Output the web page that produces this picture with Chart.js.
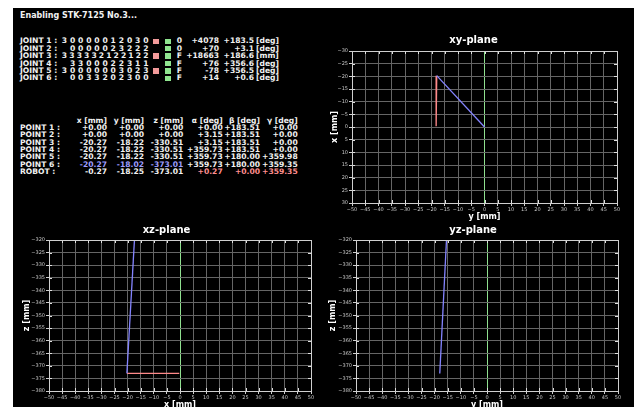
<!DOCTYPE html>
<html>
<head>
<meta charset="utf-8">
<script src="https://cdn.jsdelivr.net/npm/chart.js@4.4.1/dist/chart.umd.min.js"></script>
<style>
html,body{margin:0;padding:0;background:#fff;width:634px;height:407px;overflow:hidden;position:relative;}
#panel{position:absolute;left:13px;top:8px;width:621px;height:399px;background:#000;}
.t{position:absolute;white-space:pre;color:#f2f2f2;font-family:"DejaVu Sans",sans-serif;font-weight:700;font-size:7.6px;line-height:10px;}
.r{transform:translateX(-100%);}
.c{transform:translateX(-50%);}
.sq{position:absolute;width:6px;height:5.5px;}
canvas{position:absolute;}
</style>
</head>
<body>
<div id="panel"></div>
<div id="txt"></div>
<canvas id="xy" width="314" height="192" style="left:320px;top:30px;width:314px;height:192px;"></canvas>
<canvas id="xz" width="303" height="190" style="left:13px;top:222px;width:303px;height:190px;"></canvas>
<canvas id="yz" width="314" height="190" style="left:320px;top:222px;width:314px;height:190px;"></canvas>
<script>
// ---------- data ----------
const heading = "Enabling STK-7125 No.3...";
const jointNames = ["JOINT 1 :", "JOINT 2 :", "JOINT 3 :", "JOINT 4 :", "JOINT 5 :", "JOINT 6 :"];
const jointCodes = ["30000012030", "0000023222", "333332122122", "3300022311", "30000003023", "0033202300"];
const jointRedFlag = [true, false, true, false, true, false];
const jointStatus = ["0", "0", "F", "F", "F", "F"];
const jointCounts = [4078, 70, 18663, 76, -78, 14];
const jointValues = [183.5, 3.1, 186.6, 356.6, 356.5, 0.6];
const jointUnits = ["[deg]", "[deg]", "[mm]", "[deg]", "[deg]", "[deg]"];

const colHeaders = ["x [mm]", "y [mm]", "z [mm]", "\u03b1 [deg]", "\u03b2 [deg]", "\u03b3 [deg]"];
const pointNames = ["POINT 1 :", "POINT 2 :", "POINT 3 :", "POINT 4 :", "POINT 5 :", "POINT 6 :"];
const pointX = [0.00, 0.00, -20.27, -20.27, -20.27, -20.27];
const pointY = [0.00, 0.00, -18.22, -18.22, -18.22, -18.02];
const pointZ = [0.00, 0.00, -330.51, -330.51, -330.51, -373.01];
const pointA = [0.00, 3.15, 3.15, 359.73, 359.73, 359.73];
const pointB = [183.51, 183.51, 183.51, 183.51, 180.00, 180.00];
const pointG = [0.00, 0.00, 0.00, 0.00, 359.98, 359.35];
const robotName = "ROBOT :";
const robot = [-0.27, -18.25, -373.01, 0.27, 0.00, 359.35];

const xyRange = {h: [-50, 50], v: [-30, 30]};
const xzRange = {h: [-50, 50], v: [-380, -320]};
const yzRange = {h: [-50, 50], v: [-380, -320]};
const tickStep = 5;

// ---------- text panel ----------
const BLUE_T = "#9d9dff", RED_T = "#ff8f8f";
const txt = document.getElementById("txt");
function put(s, x, y, align, opt) {
  const d = document.createElement("div");
  d.className = "t" + (align === "r" ? " r" : align === "c" ? " c" : "");
  d.textContent = s;
  d.style.left = x + "px";
  d.style.top = (y - 5) + "px";
  if (opt && opt.color) d.style.color = opt.color;
  if (opt && opt.size) { d.style.fontSize = opt.size + "px"; d.style.lineHeight = (opt.size + 2) + "px"; d.style.top = (y - (opt.size + 2) / 2) + "px"; }
  txt.appendChild(d);
}
function sgn(v, n) { const s = v.toFixed(n); return v < 0 ? s : "+" + s; }
function sq(x, y, col) {
  const d = document.createElement("div");
  d.className = "sq"; d.style.left = x + "px"; d.style.top = (y - 2.75) + "px"; d.style.background = col;
  txt.appendChild(d);
}

put(heading, 20, 16, "l", {size: 8});

const jy0 = 41.3, jdy = 7.4;
const codeFirst = 64.5, codeLast = 145.8, codePitch = 8.13;
jointNames.forEach((n, i) => {
  const y = jy0 + i * jdy;
  put(n, 20, y, "l");
  const code = jointCodes[i];
  const pitch = Math.min(codePitch, (codeLast - codeFirst) / (code.length - 1));
  for (let k = 0; k < code.length; k++) {
    const fromRight = code.length - 1 - k;
    put(code[k], codeLast - fromRight * pitch, y, "c");
  }
  if (jointRedFlag[i]) sq(153.3, y, "#f29a9a");
  sq(165, y, "#8fe58f");
  put(jointStatus[i], 176.7, y, "l");
  put((jointCounts[i] < 0 ? "" : "+") + jointCounts[i], 219, y, "r");
  put(sgn(jointValues[i], 1), 254, y, "r");
  put(jointUnits[i], 256, y, "l");
});

const colRight = [107, 144, 183.3, 222.7, 260, 297.7];
const py0 = 120.7, pdy = 7.33;
colHeaders.forEach((h, c) => put(h, colRight[c], py0, "r"));
pointNames.forEach((n, i) => {
  const y = py0 + (i + 1) * pdy;
  put(n, 20, y, "l");
  const vals = [pointX[i], pointY[i], pointZ[i], pointA[i], pointB[i], pointG[i]];
  vals.forEach((v, c) => put(sgn(v, 2), colRight[c], y, "r", (i === 5 && c < 3) ? {color: BLUE_T} : null));
});
{
  const y = py0 + 7 * pdy;
  put(robotName, 20, y, "l");
  robot.forEach((v, c) => put(sgn(v, 2), colRight[c], y, "r", c >= 3 ? {color: RED_T} : null));
}

// ---------- charts ----------
const BLUE = "#8484ff", RED = "#ff8a8a", GREEN = "#8fe08f", GRID = "#666666", FRAME = "#cfcfcf";
const tickFmt = v => String(v).replace("-", "\u2212");
const frame = {
  id: "frame",
  afterDraw(chart) {
    const {ctx, chartArea: a, scales: {x, y}} = chart;
    ctx.save();
    ctx.strokeStyle = "#e0e0e0"; ctx.lineWidth = 1;
    ctx.beginPath();
    x.ticks.forEach(t => {
      const p = Math.round(x.getPixelForValue(t.value)) + 0.5;
      ctx.moveTo(p, a.top); ctx.lineTo(p, a.top + 3);
      ctx.moveTo(p, a.bottom); ctx.lineTo(p, a.bottom - 3);
    });
    y.ticks.forEach(t => {
      const p = Math.round(y.getPixelForValue(t.value)) + 0.5;
      ctx.moveTo(a.left, p); ctx.lineTo(a.left + 3, p);
      ctx.moveTo(a.right, p); ctx.lineTo(a.right - 3, p);
    });
    ctx.stroke();
    ctx.strokeStyle = FRAME;
    ctx.strokeRect(Math.round(a.left) + 0.5, Math.round(a.top) + 0.5, Math.round(a.right - a.left), Math.round(a.bottom - a.top));
    ctx.restore();
  }
};
function plane(id, o) {
  const axisTitleFont = {family: "DejaVu Sans", weight: "bold", size: 8};
  const tickFont = {family: "DejaVu Sans", size: 5};
  return new Chart(document.getElementById(id), {
    type: "scatter",
    data: {datasets: [
      {data: o.blue, borderColor: BLUE, showLine: true, pointRadius: 0, borderWidth: 1.3},
      {data: o.red, borderColor: RED, showLine: true, pointRadius: 0, borderWidth: 1.3}
    ]},
    options: {
      responsive: false, animation: false, devicePixelRatio: 1,
      layout: {padding: o.pad},
      plugins: {
        legend: {display: false}, tooltip: {enabled: false},
        title: {display: true, text: o.title, color: "#fff", font: {family: "DejaVu Sans", weight: "bold", size: 10}, padding: o.titlePad}
      },
      scales: {
        x: {
          type: "linear", min: o.range.h[0], max: o.range.h[1],
          ticks: {stepSize: tickStep, autoSkip: false, maxRotation: 0, font: tickFont, color: "#c8c8c8", padding: 1, callback: tickFmt},
          grid: {color: c => (c.tick && c.tick.value === 0) ? GREEN : GRID, tickLength: 3, tickColor: "#d0d0d0"},
          border: {color: FRAME},
          title: {display: true, text: o.xTitle, color: "#fff", font: axisTitleFont, padding: 0},
          afterFit(s) { s.height = o.xH; }
        },
        y: {
          type: "linear", min: o.range.v[0], max: o.range.v[1], reverse: !!o.rev,
          ticks: {stepSize: tickStep, autoSkip: false, font: tickFont, color: "#c8c8c8", padding: 1, callback: tickFmt},
          grid: {color: GRID, tickLength: 3, tickColor: "#d0d0d0"},
          border: {color: FRAME},
          title: {display: true, text: o.yTitle, color: "#fff", font: axisTitleFont, padding: 0},
          afterFit(s) { s.width = o.yW; }
        }
      }
    },
    plugins: [frame]
  });
}

const p1 = 0, p6 = 5;
plane("xy", {
  title: "xy-plane", xTitle: "y [mm]", yTitle: "x [mm]", range: xyRange, rev: true,
  blue: [{x: pointY[p1], y: pointX[p1]}, {x: pointY[p6], y: pointX[p6]}],
  red: [{x: pointY[p6], y: pointX[p6]}, {x: robot[1], y: robot[0]}],
  pad: {left: 10, right: 17, top: 0, bottom: 0}, titlePad: {top: 4, bottom: 5}, yW: 22, xH: 19
});
plane("xz", {
  title: "xz-plane", xTitle: "x [mm]", yTitle: "z [mm]", range: xzRange,
  blue: [{x: pointX[p1], y: pointZ[p1]}, {x: pointX[p6], y: pointZ[p6]}],
  red: [{x: pointX[p6], y: pointZ[p6]}, {x: robot[0], y: robot[2]}],
  pad: {left: 9, right: 5, top: 0, bottom: 2}, titlePad: {top: 2, bottom: 4}, yW: 27, xH: 19
});
plane("yz", {
  title: "yz-plane", xTitle: "y [mm]", yTitle: "z [mm]", range: yzRange,
  blue: [{x: pointY[p1], y: pointZ[p1]}, {x: pointY[p6], y: pointZ[p6]}],
  red: [{x: pointY[p6], y: pointZ[p6]}, {x: robot[1], y: robot[2]}],
  pad: {left: 8, right: 16, top: 0, bottom: 2}, titlePad: {top: 2, bottom: 4}, yW: 28, xH: 19
});
</script>
</body>
</html>
